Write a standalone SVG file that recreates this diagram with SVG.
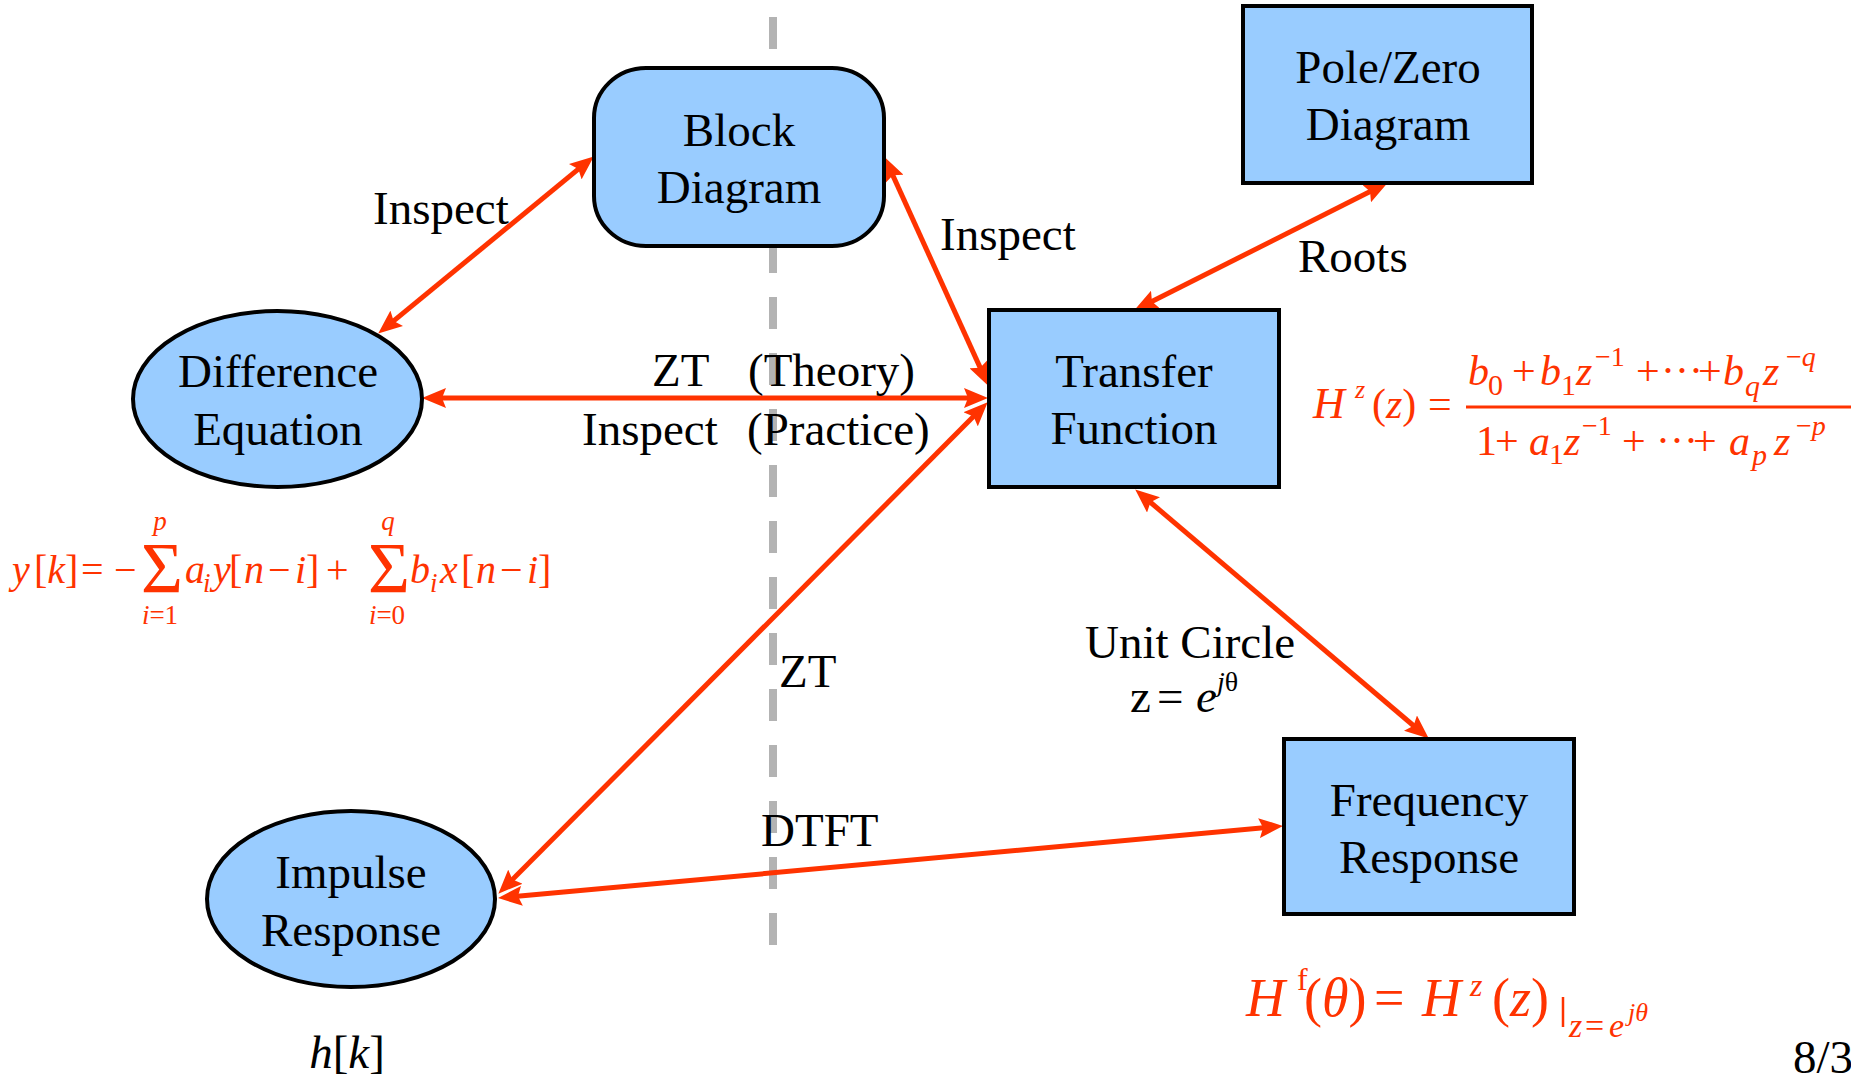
<svg xmlns="http://www.w3.org/2000/svg" width="1851" height="1075" viewBox="0 0 1851 1075">
  <style>
    .node { fill: #99ccff; stroke: #000; stroke-width: 4; }
    .lbl { font-family: "Liberation Serif", "Times New Roman", serif; font-size: 47px; fill: #000; }
    .mid { text-anchor: middle; }
    .conn { stroke: #ff3300; stroke-width: 5; fill: none; marker-start: url(#head); marker-end: url(#head); }
    .eq { font-family: "Liberation Serif", "Times New Roman", serif; fill: #ff3300; }
    .it { font-style: italic; }
  </style>
  <defs>
    <marker id="head" markerUnits="userSpaceOnUse" markerWidth="24" markerHeight="20" refX="13" refY="10" orient="auto-start-reverse">
      <path d="M0,0 L24,10 L0,20 L4,10 z" fill="#ff3300"/>
    </marker>
  </defs>
  <rect width="1851" height="1075" fill="#fff"/>

  <!-- theory / practice divider -->
  <line id="divider" x1="773" y1="17" x2="773" y2="945" stroke="#b3b3b3" stroke-width="8" stroke-dasharray="32 24"/>

  <!-- connectors -->
  <g id="connectors">
    <line class="conn" x1="585.3" y1="163.4" x2="386.7" y2="326.6"/>
    <line class="conn" x1="889.1" y1="167.1" x2="983.9" y2="375.9"/>
    <line class="conn" x1="433" y1="398" x2="977" y2="398"/>
    <line class="conn" x1="979.9" y1="410.1" x2="506.1" y2="885.9"/>
    <line class="conn" x1="509" y1="897.1" x2="1272" y2="826.9"/>
    <line class="conn" x1="1378.1" y1="187.5" x2="1143.9" y2="305.5"/>
    <line class="conn" x1="1143.6" y1="496.5" x2="1420.4" y2="731.5"/>
  </g>

  <!-- connector labels -->
  <g id="connector-labels" class="lbl">
    <text x="373" y="224">Inspect</text>
    <text x="940" y="250">Inspect</text>
    <text x="1298" y="272">Roots</text>
    <text x="652" y="386">ZT</text>
    <text x="748" y="386">(Theory)</text>
    <text x="582" y="445">Inspect</text>
    <text x="747" y="445">(Practice)</text>
    <text x="779" y="687">ZT</text>
    <text x="761" y="846">DTFT</text>
    <text x="1085" y="658">Unit Circle</text>
    <text x="1130" y="712">z</text>
    <text x="1157" y="712">=</text>
    <text x="1196" y="712" class="it">e</text>
    <text x="1217" y="691" font-size="28"><tspan class="it">j</tspan>θ</text>
  </g>

  <!-- nodes -->
  <g id="block-diagram">
    <rect class="node" x="594" y="68" width="290" height="178" rx="52" ry="50"/>
    <text class="lbl mid" x="739" y="146">Block</text>
    <text class="lbl mid" x="739" y="203">Diagram</text>
  </g>
  <g id="difference-equation">
    <ellipse class="node" cx="277.5" cy="399" rx="144.5" ry="88"/>
    <text class="lbl mid" x="278" y="387">Difference</text>
    <text class="lbl mid" x="278" y="445">Equation</text>
  </g>
  <g id="transfer-function">
    <rect class="node" x="989" y="310" width="290" height="177"/>
    <text class="lbl mid" x="1134" y="387">Transfer</text>
    <text class="lbl mid" x="1134" y="444">Function</text>
  </g>
  <g id="pole-zero-diagram">
    <rect class="node" x="1243" y="6" width="289" height="177"/>
    <text class="lbl mid" x="1388" y="83">Pole/Zero</text>
    <text class="lbl mid" x="1388" y="140">Diagram</text>
  </g>
  <g id="frequency-response">
    <rect class="node" x="1284" y="739" width="290" height="175"/>
    <text class="lbl mid" x="1429" y="816">Frequency</text>
    <text class="lbl mid" x="1429" y="873">Response</text>
  </g>
  <g id="impulse-response">
    <ellipse class="node" cx="351" cy="899" rx="144" ry="88"/>
    <text class="lbl mid" x="351" y="888">Impulse</text>
    <text class="lbl mid" x="351" y="946">Response</text>
  </g>

  <!-- impulse response symbol -->
  <text class="lbl mid" x="347" y="1068"><tspan class="it">h</tspan>[<tspan class="it">k</tspan>]</text>

  <!-- difference equation formula -->
  <g id="eq-difference" class="eq" font-size="40">
    <text x="12" y="583" class="it">y</text>
    <text x="34" y="583">[<tspan class="it">k</tspan>]</text>
    <text x="81" y="583">=</text>
    <text x="114" y="583">−</text>
    <text x="162" y="592" font-size="72" text-anchor="middle">Σ</text>
    <text x="160" y="530" font-size="27" text-anchor="middle" class="it">p</text>
    <text x="160" y="624" font-size="27" text-anchor="middle"><tspan class="it">i</tspan>=1</text>
    <text x="185" y="583" class="it">a</text>
    <text x="203" y="592" font-size="27" class="it">i</text>
    <text x="213" y="583" class="it">y</text>
    <text x="229" y="583">[</text>
    <text x="244" y="583" class="it">n</text>
    <text x="268" y="583">−</text>
    <text x="295" y="583" class="it">i</text>
    <text x="306" y="583">]</text>
    <text x="326" y="583">+</text>
    <text x="389" y="592" font-size="72" text-anchor="middle">Σ</text>
    <text x="388" y="530" font-size="27" text-anchor="middle" class="it">q</text>
    <text x="387" y="624" font-size="27" text-anchor="middle"><tspan class="it">i</tspan>=0</text>
    <text x="410" y="583" class="it">b</text>
    <text x="430" y="592" font-size="27" class="it">i</text>
    <text x="440" y="583" class="it">x</text>
    <text x="461" y="583">[</text>
    <text x="476" y="583" class="it">n</text>
    <text x="500" y="583">−</text>
    <text x="527" y="583" class="it">i</text>
    <text x="538" y="583">]</text>
  </g>

  <!-- transfer function formula -->
  <g id="eq-transfer" class="eq" font-size="42">
    <text x="1313" y="418" class="it" font-size="44">H</text>
    <text x="1355" y="398" font-size="26" class="it">z</text>
    <text x="1372" y="418">(<tspan class="it">z</tspan>)</text>
    <text x="1428" y="418">=</text>
    <line x1="1466" y1="407" x2="1851" y2="407" stroke="#ff3300" stroke-width="3"/>
    <text x="1468" y="385" class="it">b</text>
    <text x="1488" y="395" font-size="30">0</text>
    <text x="1512" y="385">+</text>
    <text x="1540" y="385" class="it">b</text>
    <text x="1561" y="395" font-size="30">1</text>
    <text x="1576" y="385" class="it">z</text>
    <text x="1595" y="366" font-size="28">−1</text>
    <text x="1636" y="385">+</text>
    <text x="1661" y="385">···</text>
    <text x="1698" y="385">+</text>
    <text x="1723" y="385" class="it">b</text>
    <text x="1745" y="396" font-size="30" class="it">q</text>
    <text x="1763" y="385" class="it">z</text>
    <text x="1786" y="366" font-size="28">−<tspan class="it">q</tspan></text>
    <text x="1476" y="455">1</text>
    <text x="1495" y="455">+</text>
    <text x="1529" y="455" class="it">a</text>
    <text x="1549" y="464" font-size="30">1</text>
    <text x="1564" y="455" class="it">z</text>
    <text x="1582" y="435" font-size="28">−1</text>
    <text x="1622" y="455">+</text>
    <text x="1656" y="455">···</text>
    <text x="1693" y="455">+</text>
    <text x="1729" y="455" class="it">a</text>
    <text x="1752" y="465" font-size="30" class="it">p</text>
    <text x="1774" y="455" class="it">z</text>
    <text x="1796" y="435" font-size="28">−<tspan class="it">p</tspan></text>
  </g>

  <!-- frequency response formula -->
  <g id="eq-frequency" class="eq" font-size="54">
    <text x="1246" y="1016" class="it">H</text>
    <text x="1297" y="990" font-size="32">f</text>
    <text x="1304" y="1016">(<tspan class="it">θ</tspan>)</text>
    <text x="1374" y="1016">=</text>
    <text x="1422" y="1016" class="it">H</text>
    <text x="1470" y="996" font-size="32" class="it">z</text>
    <text x="1492" y="1016">(<tspan class="it">z</tspan>)</text>
    <line x1="1563" y1="997" x2="1563" y2="1027" stroke="#ff3300" stroke-width="2.5"/>
    <text x="1569" y="1037" font-size="34" class="it">z</text>
    <text x="1585" y="1037" font-size="34">=</text>
    <text x="1609" y="1037" font-size="34" class="it">e</text>
    <text x="1628" y="1021" font-size="26" class="it">jθ</text>
  </g>

  <!-- page number -->
  <text class="lbl" x="1793" y="1073" font-size="31">8/30</text>
</svg>
